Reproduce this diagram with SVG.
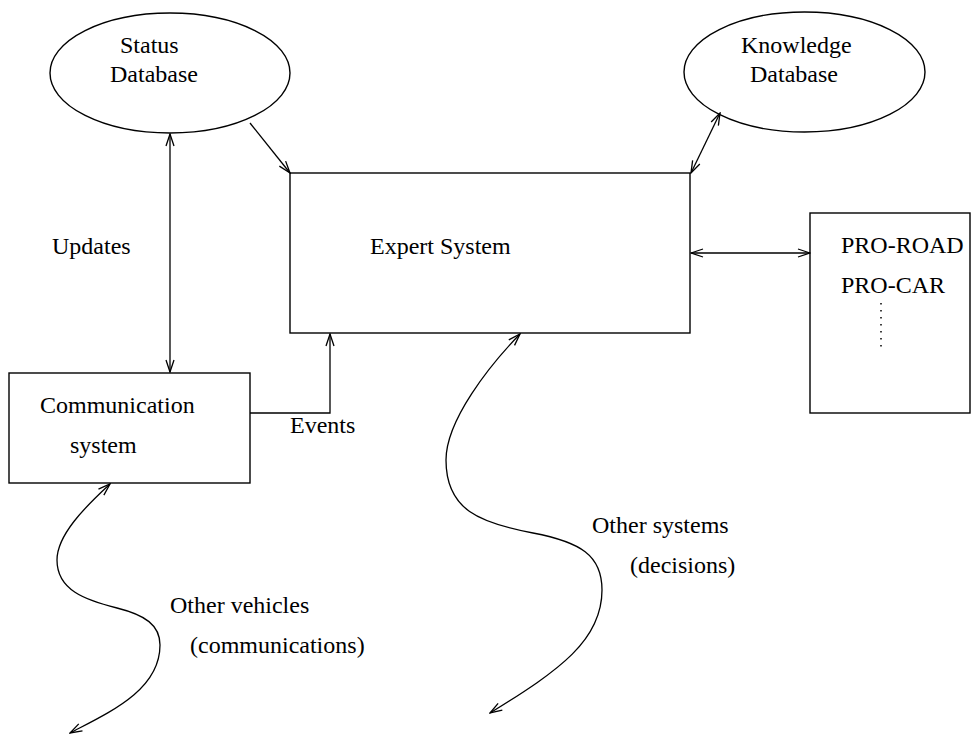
<svg xmlns="http://www.w3.org/2000/svg" width="972" height="740" viewBox="0 0 972 740">
<style>
.shape{fill:none;stroke:#000;stroke-width:1.4}
.conn{fill:none;stroke:#000;stroke-width:1.3}
text{font-family:"Liberation Serif","Times New Roman",serif;font-size:24px;fill:#000}
</style>
<defs>
<marker id="ah" viewBox="0 0 14 10" markerUnits="userSpaceOnUse" markerWidth="14" markerHeight="10" refX="13" refY="5" orient="auto-start-reverse">
<path d="M1,1 L13,5 L1,9" fill="none" stroke="#000" stroke-width="1.3"/>
</marker>
</defs>
<rect width="972" height="740" fill="#fff"/>
<g id="status-db">
<ellipse class="shape" cx="170" cy="73" rx="120" ry="60"/>
<text x="120" y="53">Status</text>
<text x="110" y="82">Database</text>
</g>
<g id="knowledge-db">
<ellipse class="shape" cx="804.5" cy="72" rx="120.5" ry="60"/>
<text x="741" y="53">Knowledge</text>
<text x="750" y="82">Database</text>
</g>
<g id="expert-system">
<rect class="shape" x="290" y="173" width="400" height="160"/>
<text x="370" y="254">Expert System</text>
</g>
<g id="pro-box">
<rect class="shape" x="810" y="213" width="160" height="200"/>
<text x="841" y="253">PRO-ROAD</text>
<text x="841" y="293">PRO-CAR</text>
<line x1="881" y1="303" x2="881" y2="349" stroke="#000" stroke-width="1.5" stroke-dasharray="1.5,5.5"/>
</g>
<g id="communication-system">
<rect class="shape" x="9" y="373" width="241" height="110"/>
<text x="40" y="413">Communication</text>
<text x="70" y="453">system</text>
</g>
<g id="connectors">
<line class="conn" x1="170" y1="134" x2="170" y2="372" marker-start="url(#ah)" marker-end="url(#ah)"/>
<line class="conn" x1="250" y1="123" x2="290" y2="173" marker-end="url(#ah)"/>
<line class="conn" x1="720" y1="113" x2="691" y2="173" marker-start="url(#ah)" marker-end="url(#ah)"/>
<line class="conn" x1="691" y1="253" x2="810" y2="253" marker-start="url(#ah)" marker-end="url(#ah)"/>
<polyline class="conn" points="250,413 330,413 330,334" marker-end="url(#ah)"/>
<path class="conn" d="M110,484 C85,507 57,535 57,560 C57,590 85,600 117,608 C145,615 160,625 160,645 C160,690 110,712 70,733" marker-start="url(#ah)" marker-end="url(#ah)"/>
<path class="conn" d="M520,334 C490,365 446,420 446,460 C446,510 480,523 533,533 C580,542 602,555 602,590 C602,640 560,670 490,713" marker-start="url(#ah)" marker-end="url(#ah)"/>
<text x="52" y="254">Updates</text>
<text x="290" y="433">Events</text>
<text x="170" y="613">Other vehicles</text>
<text x="190" y="653">(communications)</text>
<text x="592" y="533">Other systems</text>
<text x="630" y="573">(decisions)</text>
</g>
</svg>
